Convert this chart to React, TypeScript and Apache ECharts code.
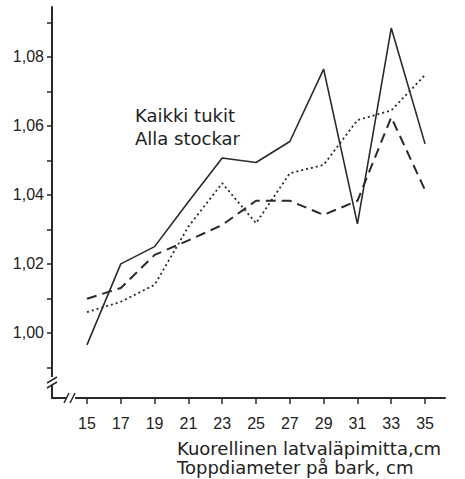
import React, { useEffect, useRef } from "react";
import * as echarts from "echarts";

const diameters = [15, 17, 19, 21, 23, 25, 27, 29, 31, 33, 35];
const allLogs = [0.9965, 1.02, 1.025, 1.038, 1.0507, 1.0494, 1.0555, 1.0765, 1.0316, 1.0884, 1.0548];
const dashedSeries = [1.0099, 1.013, 1.0226, 1.0268, 1.0313, 1.0383, 1.0383, 1.0342, 1.0383, 1.0625, 1.0414];
const dottedSeries = [1.006, 1.009, 1.0139, 1.0308, 1.0434, 1.0318, 1.0463, 1.0487, 1.0617, 1.0645, 1.0748];
const yTicks = [0.99, 1.0, 1.01, 1.02, 1.03, 1.04, 1.05, 1.06, 1.07, 1.08, 1.09];
const yLabels = [1.0, 1.02, 1.04, 1.06, 1.08];
const legendLines = ["Kaikki tukit", "Alla stockar"];
const xTitleLines = ["Kuorellinen latvaläpimitta,cm", "Toppdiameter på bark, cm"];

const INK = "#2a2a2a";

export default function App() {
  const ref = useRef<HTMLDivElement>(null);
  useEffect(() => {
    if (!ref.current) return;
    const chart = echarts.init(ref.current, undefined, { renderer: "svg" });
    const pts = (vals: number[]) => diameters.map((d, i) => [d, vals[i]]);
    chart.setOption({
      animation: false,
      backgroundColor: "#ffffff",
      grid: { left: 52, right: 20, top: 7, bottom: 81 },
      xAxis: {
        type: "value",
        min: 12.93,
        max: 36.18,
        axisLine: { show: true, lineStyle: { color: INK, width: 2 } },
        axisTick: { show: true, length: 6, lineStyle: { color: INK, width: 1.5 }, customValues: diameters },
        axisLabel: {
          customValues: diameters,
          margin: 17,
          fontSize: 16,
          fontFamily: "Liberation Sans",
          color: "#222",
        },
        splitLine: { show: false },
      },
      yAxis: {
        type: "value",
        min: 0.9811,
        max: 1.0945,
        axisLine: { show: true, lineStyle: { color: INK, width: 2 } },
        axisTick: { show: true, length: 5, lineStyle: { color: INK, width: 1.5 }, customValues: yTicks },
        axisLabel: {
          customValues: yLabels,
          margin: 8,
          fontSize: 16,
          fontFamily: "Liberation Sans",
          color: "#222",
          formatter: (v: number) => v.toFixed(2).replace(".", ","),
        },
        splitLine: { show: false },
      },
      series: [
        {
          type: "line",
          data: pts(allLogs),
          showSymbol: false,
          lineStyle: { color: INK, width: 1.6, type: "solid" },
        },
        {
          type: "line",
          data: pts(dashedSeries),
          showSymbol: false,
          lineStyle: { color: INK, width: 2, type: [10, 6] },
        },
        {
          type: "line",
          data: pts(dottedSeries),
          showSymbol: false,
          lineStyle: { color: INK, width: 1.8, type: [2, 3] },
        },
      ],
      graphic: [
        { type: "rect", shape: { x: 46, y: 377, width: 10, height: 8 }, style: { fill: "#fff" }, z: 100 },
        { type: "line", shape: { x1: 47, y1: 383, x2: 57, y2: 377 }, style: { stroke: INK, lineWidth: 1.5 }, z: 101 },
        { type: "line", shape: { x1: 47, y1: 388, x2: 57, y2: 382 }, style: { stroke: INK, lineWidth: 1.5 }, z: 101 },
        { type: "rect", shape: { x: 66, y: 394, width: 9, height: 8 }, style: { fill: "#fff" }, z: 100 },
        { type: "line", shape: { x1: 64, y1: 403, x2: 69, y2: 393 }, style: { stroke: INK, lineWidth: 1.5 }, z: 101 },
        { type: "line", shape: { x1: 70, y1: 403, x2: 75, y2: 393 }, style: { stroke: INK, lineWidth: 1.5 }, z: 101 },
        ...legendLines.map((t, i) => ({
          type: "text",
          x: 135,
          y: 115 + i * 23,
          style: {
            text: t,
            fontSize: 18,
            fontFamily: "DejaVu Sans",
            fill: "#222",
            verticalAlign: "middle",
          },
        })),
        ...xTitleLines.map((t, i) => ({
          type: "text",
          x: 177,
          y: 448 + i * 19,
          style: {
            text: t,
            fontSize: 18,
            fontFamily: "DejaVu Sans",
            fill: "#222",
            verticalAlign: "middle",
          },
        })),
      ],
    });
    return () => chart.dispose();
  }, []);
  return (
    <div
      ref={ref}
      style={{ position: "fixed", left: 0, top: 0, width: 465, height: 479 }}
    />
  );
}
